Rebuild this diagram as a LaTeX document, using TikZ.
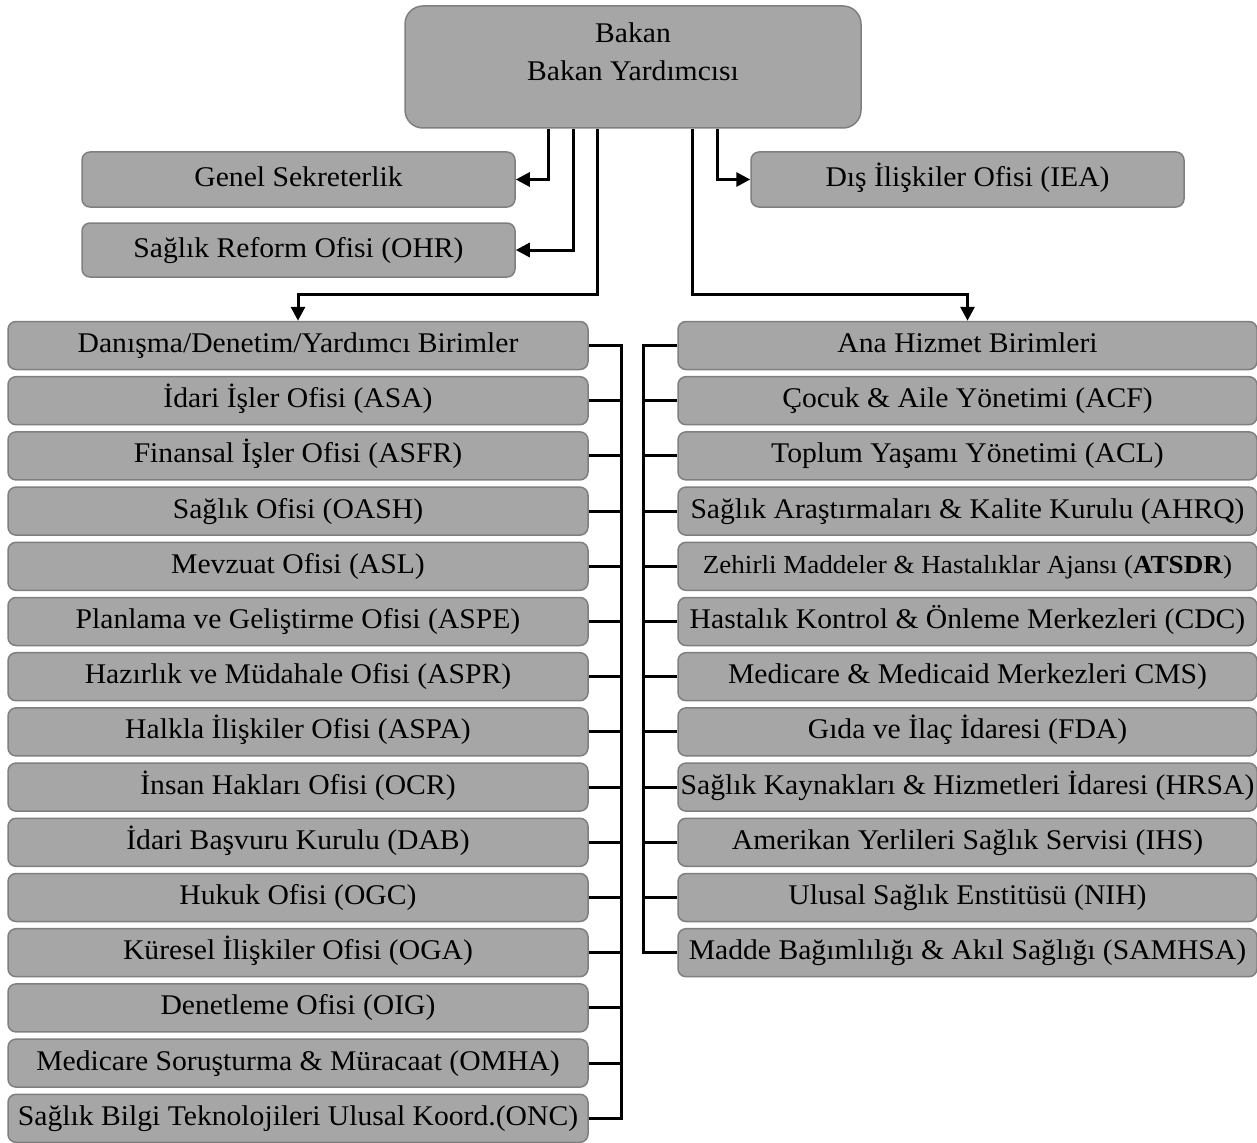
\documentclass[tikz,border=0pt]{standalone}
\usepackage{fontspec}
\setmainfont{Liberation Serif}[FakeStretch=1.04]
\usetikzlibrary{arrows.meta}
\definecolor{boxfill}{HTML}{A6A6A6}
\definecolor{boxline}{HTML}{7F7F7F}
\newcommand\bigfs{\fontsize{28.5}{36}\selectfont}
\newcommand\smallfs{\fontsize{26}{30}\selectfont}
\begin{document}
\begin{tikzpicture}[x=1pt,y=-1pt,
  unitbox/.style={draw=boxline, fill=boxfill, line width=1.5pt, rounded corners=8pt, inner sep=0pt, minimum height=48pt, text height=20pt, text depth=6pt, font=\bigfs},
  leftbox/.style={unitbox, minimum width=580pt},
  rightbox/.style={unitbox, minimum width=579pt},
  conn/.style={line width=3pt},
  arr/.style={conn, -{Triangle[length=14pt,width=14pt]}},
  lbl/.style={font=\bigfs, inner sep=0pt, text height=20pt, text depth=6pt}]
\useasboundingbox (0,0) rectangle (1257,1142);

% top box
\node[unitbox, rounded corners=18pt, minimum width=456pt, minimum height=122pt, text height=0pt, text depth=0pt] (bakan) at (633,67) {};
\node[lbl] (t1) at (633,36) {Bakan};
\node[lbl] (t2) at (633,74) {Bakan Yardımcısı};

\node[unitbox, minimum width=433pt, minimum height=55pt] (genel) at (298.5,179.5) {Genel Sekreterlik};
\node[unitbox, minimum width=433pt, minimum height=54pt] (sro) at (298.5,250) {Sağlık Reform Ofisi (OHR)};
\node[unitbox, minimum width=433pt, minimum height=55pt] (dis) at (967.5,179.5) {Dış İlişkiler Ofisi (IEA)};

% left column
\foreach \t [count=\i from 0] in {Danışma/Denetim/Yardımcı Birimler, İdari İşler Ofisi (ASA), Finansal İşler Ofisi (ASFR), Sağlık Ofisi (OASH), Mevzuat Ofisi (ASL), Planlama ve Geliştirme Ofisi (ASPE), Hazırlık ve Müdahale Ofisi (ASPR), Halkla İlişkiler Ofisi (ASPA), İnsan Hakları Ofisi (OCR), İdari Başvuru Kurulu (DAB), Hukuk Ofisi (OGC), Küresel İlişkiler Ofisi (OGA), Denetleme Ofisi (OIG), Medicare Soruşturma \& Müracaat (OMHA), Sağlık Bilgi Teknolojileri Ulusal Koord.(ONC)}
  {\node[leftbox] (L\i) at (298,{345.5+55.2*\i}) {\t};}

% right column
\foreach \t [count=\i from 0] in {Ana Hizmet Birimleri, Çocuk \& Aile Yönetimi (ACF), Toplum Yaşamı Yönetimi (ACL), Sağlık Araştırmaları \& Kalite Kurulu (AHRQ), {\smallfs Zehirli Maddeler \& Hastalıklar Ajansı (\textbf{ATSDR})}, Hastalık Kontrol \& Önleme Merkezleri (CDC), Medicare \& Medicaid Merkezleri CMS), Gıda ve İlaç İdaresi (FDA), Sağlık Kaynakları \& Hizmetleri İdaresi (HRSA), Amerikan Yerlileri Sağlık Servisi (IHS), Ulusal Sağlık Enstitüsü (NIH), Madde Bağımlılığı \& Akıl Sağlığı (SAMHSA)}
  {\node[rightbox] (R\i) at (967.5,{345.5+55.2*\i}) {\t};}

% connectors from top
\draw[arr] (548,0 |- bakan.south) |- (genel.east);
\draw[arr] (573,0 |- bakan.south) |- (sro.east);
\draw[arr] (597,0 |- bakan.south) -- (597,294) -| (L0.north);
\draw[arr] (692,0 |- bakan.south) -- (692,294) -| (R0.north);
\draw[arr] (717,0 |- bakan.south) |- (dis.west);

% buses
\coordinate (lbus) at (621,0);
\coordinate (rbus) at (643,0);
\draw[conn] (L0.east) -| (L14.east -| lbus) -- (L14.east);
\foreach \i in {1,...,13} {\draw[conn] (L\i.east) -- (L\i.east -| lbus);}
\draw[conn] (R0.west) -| (R11.west -| rbus) -- (R11.west);
\foreach \i in {1,...,10} {\draw[conn] (R\i.west) -- (R\i.west -| rbus);}
\end{tikzpicture}
\end{document}
